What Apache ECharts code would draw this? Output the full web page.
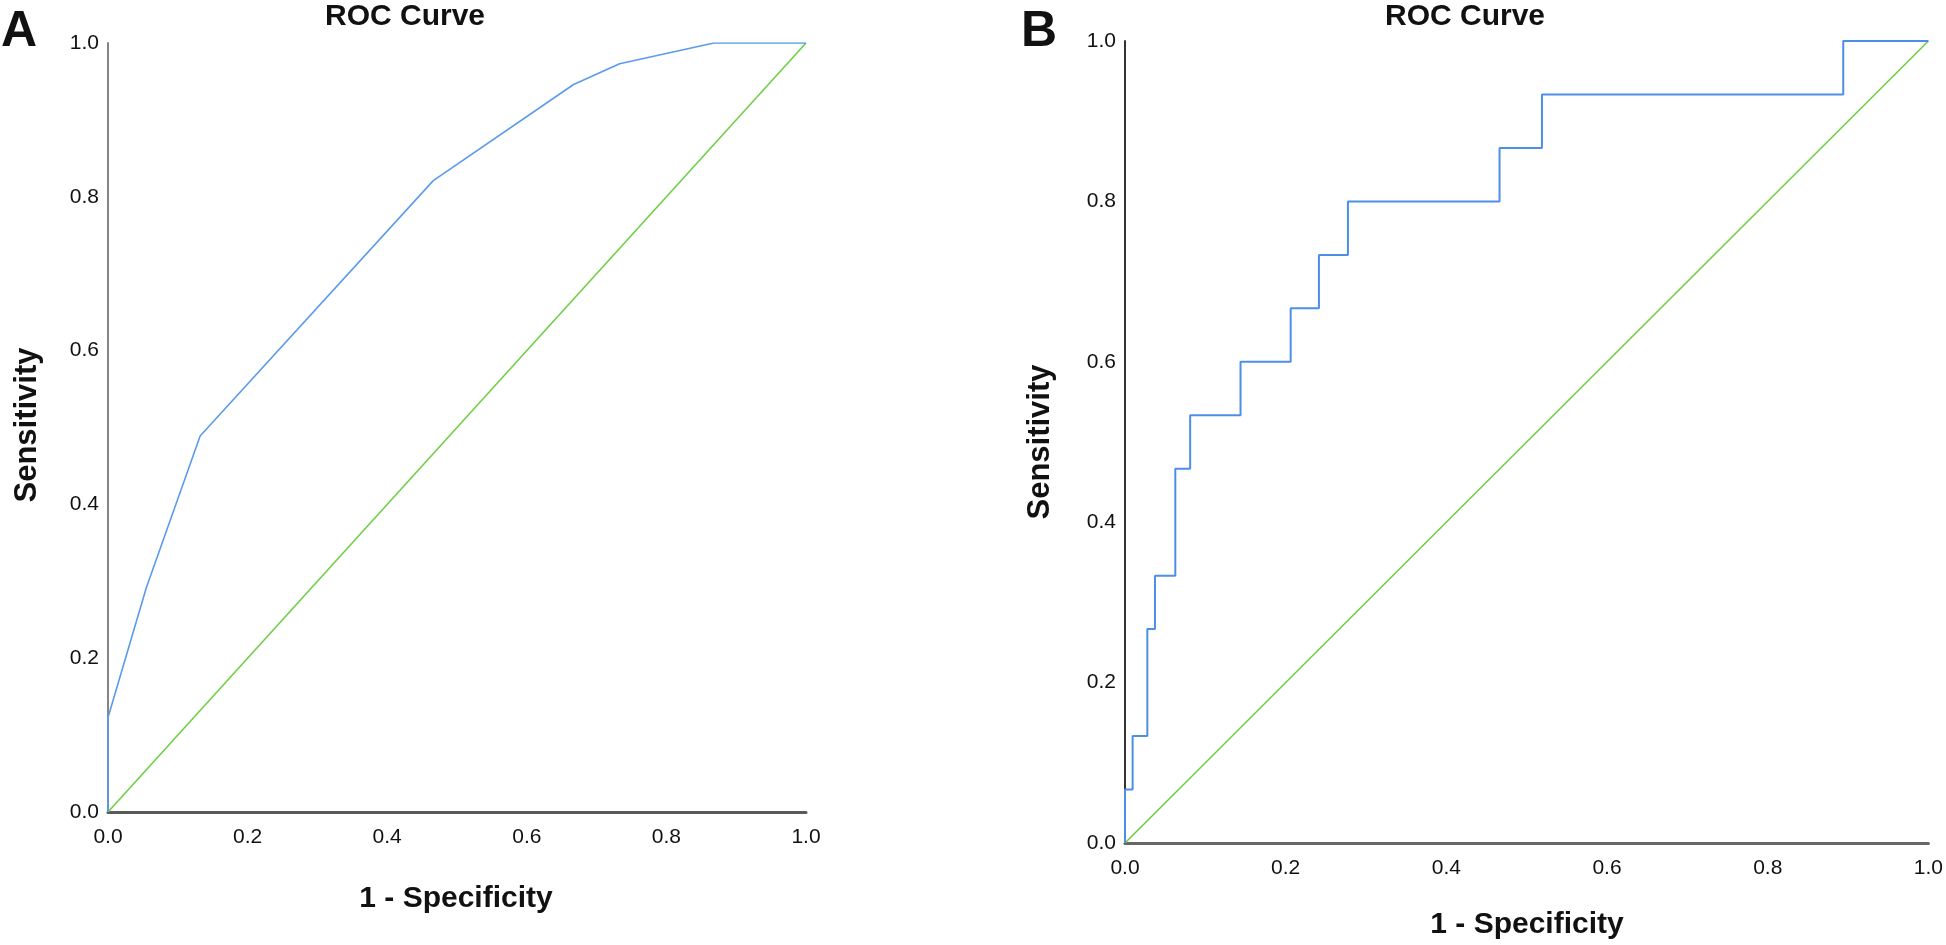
<!DOCTYPE html>
<html>
<head>
<meta charset="utf-8">
<script src="https://cdn.jsdelivr.net/npm/echarts@6/dist/echarts.min.js"></script>
<style>
html,body{margin:0;padding:0;background:#fff;}
#chart{width:1946px;height:945px;}
</style>
</head>
<body>
<div id="chart"></div>
<script>
// Panel A ROC curve (1 - Specificity, Sensitivity)
var aFpr = [0, 0, 0.055, 0.132, 0.466, 0.667, 0.733, 0.868, 1];
var aTpr = [0, 0.123, 0.292, 0.489, 0.821, 0.946, 0.973, 1, 1];
// Panel B ROC curve (step)
var bFpr = [0, 0, 0.0095, 0.0095, 0.0278, 0.0278, 0.0373, 0.0373, 0.0626, 0.0626, 0.0811, 0.0811, 0.1438, 0.1438, 0.2062, 0.2062, 0.2414, 0.2414, 0.2775, 0.2775, 0.4662, 0.4662, 0.519, 0.519, 0.894, 0.894, 1];
var bTpr = [0, 0.0667, 0.0667, 0.1333, 0.1333, 0.2667, 0.2667, 0.3333, 0.3333, 0.4667, 0.4667, 0.5333, 0.5333, 0.6, 0.6, 0.6667, 0.6667, 0.7333, 0.7333, 0.8, 0.8, 0.8667, 0.8667, 0.9333, 0.9333, 1, 1];
// Reference diagonal
var diagX = [0, 1];
var diagY = [0, 1];
var tickValues = [0, 0.2, 0.4, 0.6, 0.8, 1.0];
var chartTitle = 'ROC Curve';
var xTitle = '1 - Specificity';
var yTitle = 'Sensitivity';
var panelLetters = ['A', 'B'];

function zip(xs, ys) { return xs.map(function (x, i) { return [x, ys[i]]; }); }

var FONT = '"Liberation Sans", Arial, Helvetica, sans-serif';
var BLUE = '#5b9bec';
var GREEN = '#6fcf45';

function mkX(gi, color, w) {
  return {
    type: 'value', gridIndex: gi, min: 0, max: 1, interval: 0.2,
    axisLine: { show: true, onZero: false, lineStyle: { color: color, width: w } },
    axisTick: { show: false }, splitLine: { show: false },
    axisLabel: { margin: 15, color: '#111', fontSize: 21, fontFamily: FONT,
      formatter: function (v) { return v.toFixed(1); } }
  };
}
function mkY(gi, color, w) {
  return {
    type: 'value', gridIndex: gi, min: 0, max: 1, interval: 0.2,
    axisLine: { show: true, onZero: false, lineStyle: { color: color, width: w } },
    axisTick: { show: false }, splitLine: { show: false },
    axisLabel: { margin: 9, color: '#111', fontSize: 21, fontFamily: FONT,
      formatter: function (v) { return v.toFixed(1); } }
  };
}
function txt(x, y, text, size, weight, rot, align) {
  return { type: 'text', x: x, y: y, rotation: rot || 0, silent: true,
    style: { text: text, fontSize: size, fontWeight: weight, fontFamily: FONT,
      fill: '#111', align: align || 'center', verticalAlign: 'middle' } };
}

var chart = echarts.init(document.getElementById('chart'), null, { renderer: 'canvas' });
chart.setOption({
  backgroundColor: '#fff',
  animation: false,
  grid: [
    { left: 108, top: 43, right: 1140, bottom: 133 },
    { left: 1125, top: 41, right: 16, bottom: 102 }
  ],
  xAxis: [ mkX(0, '#5a5a5a', 3), mkX(1, '#666', 3) ],
  yAxis: [ mkY(0, '#858585', 2), mkY(1, '#333', 2) ],
  graphic: [
    txt(1, 32, panelLetters[0], 50, 'bold', 0, 'left'),
    txt(1021, 32, panelLetters[1], 50, 'bold', 0, 'left'),
    txt(325, 17, chartTitle, 30, 'bold', 0, 'left'),
    txt(1385, 17, chartTitle, 30, 'bold', 0, 'left'),
    txt(456, 899, xTitle, 30, 'bold'),
    txt(1527, 925, xTitle, 30, 'bold'),
    txt(27, 425, yTitle, 31, 'bold', Math.PI / 2),
    txt(1040, 442, yTitle, 31, 'bold', Math.PI / 2)
  ],
  series: [
    { type: 'line', xAxisIndex: 0, yAxisIndex: 0, data: zip(diagX, diagY), showSymbol: false,
      lineStyle: { color: GREEN, width: 1.6 }, z: 2 },
    { type: 'line', xAxisIndex: 0, yAxisIndex: 0, data: zip(aFpr, aTpr), showSymbol: false,
      lineStyle: { color: BLUE, width: 1.6 }, z: 3 },
    { type: 'line', xAxisIndex: 1, yAxisIndex: 1, data: zip(diagX, diagY), showSymbol: false,
      lineStyle: { color: GREEN, width: 1.6 }, z: 2 },
    { type: 'line', xAxisIndex: 1, yAxisIndex: 1, data: zip(bFpr, bTpr), showSymbol: false,
      lineStyle: { color: '#4d8fe6', width: 2 }, z: 3 }
  ]
});
</script>
</body>
</html>
